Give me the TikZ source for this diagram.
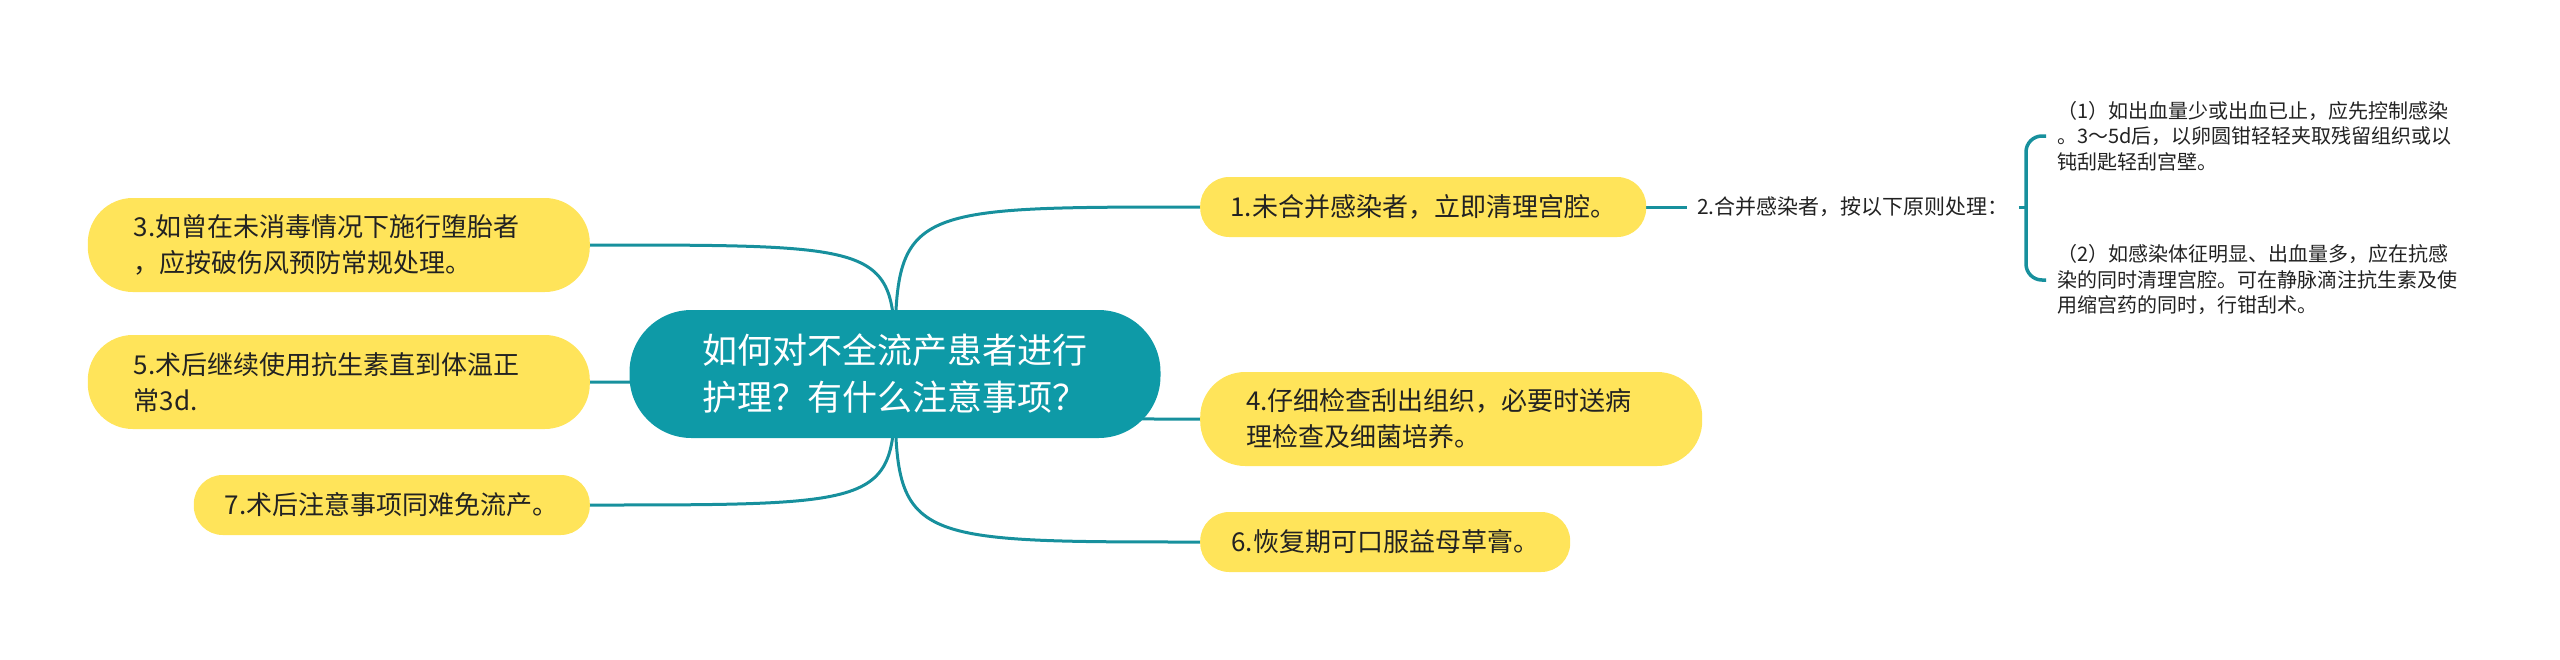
\documentclass[tikz,border=0pt]{standalone}
\usepackage{fontspec}
\setmainfont{Noto Sans CJK SC}
\usepackage{xcolor}
\usetikzlibrary{positioning,calc,backgrounds}

\definecolor{rootteal}{HTML}{0E9AA7}
\definecolor{linkteal}{HTML}{17909D}
\definecolor{leafyellow}{HTML}{FFE45A}
\definecolor{leaftext}{HTML}{222222}

\begin{document}
\begin{tikzpicture}[x=1pt, y=-1pt,
    root/.style={fill=rootteal, text=white, rounded corners=62pt, minimum width=531pt, minimum height=128pt, font=\fontsize{35}{47}\selectfont, align=left},
    leaf/.style={fill=leafyellow, text=leaftext, font=\fontsize{26}{36}\selectfont},
    twoline/.style={leaf, rounded corners=45pt, minimum width=502pt, minimum height=94pt, text width=410pt, align=left},
    oneline/.style={leaf, rounded corners=29pt, minimum height=60pt},
    note/.style={text=leaftext, inner xsep=11pt, align=left, font=\fontsize{20}{25.5}\selectfont},
    link/.style={draw=linkteal, line width=3pt}]
    \useasboundingbox (0,0) rectangle (2560,659);

    \node[root] (root) at (895,374) {如何对不全流产患者进行\\护理？有什么注意事项？};

    \node[oneline, minimum width=446pt, anchor=west] (n1) at (1200,207) {1.未合并感染者，立即清理宫腔。};
    \node[twoline, anchor=west] (n4) at (1200,419) {4.仔细检查刮出组织，必要时送病\\理检查及细菌培养。};
    \node[oneline, minimum width=370pt, anchor=west] (n6) at (1200,542) {6.恢复期可口服益母草膏。};
    \node[twoline, anchor=east] (n3) at (590,245) {3.如曾在未消毒情况下施行堕胎者\\，应按破伤风预防常规处理。};
    \node[twoline, anchor=east] (n5) at (590,382) {5.术后继续使用抗生素直到体温正\\常3d.};
    \node[oneline, minimum width=396pt, anchor=east] (n7) at (590,505) {7.术后注意事项同难免流产。};

    \node[note, font=\fontsize{21}{26}\selectfont, inner xsep=10pt, anchor=west] (t2) at (1687,207) {2.合并感染者，按以下原则处理：};
    \node[note, anchor=west] (s1) at (2046,136) {（1）如出血量少或出血已止，应先控制感染\\。3～5d后，以卵圆钳轻轻夹取残留组织或以\\钝刮匙轻刮宫壁。};
    \node[note, anchor=west] (s2) at (2046,280) {（2）如感染体征明显、出血量多，应在抗感\\染的同时清理宫腔。可在静脉滴注抗生素及使\\用缩宫药的同时，行钳刮术。};
    \coordinate (fork) at ([xshift=-20pt]s1.west |- t2.east);

    \begin{scope}[on background layer]
        \foreach \n in {n1,n4,n6}
            \draw[link] (root.center) .. controls (root.center |- \n.west) .. (\n.west);
        \foreach \n in {n3,n5,n7}
            \draw[link] (root.center) .. controls (root.center |- \n.east) .. (\n.east);
        \draw[link] (n1.east) -- (t2.west);
        \draw[link] (t2.east) -- (fork);
        \draw[link, line width=3.5pt, rounded corners=16pt] (s1.west) -| (fork) |- (s2.west);
    \end{scope}
\end{tikzpicture}
\end{document}
